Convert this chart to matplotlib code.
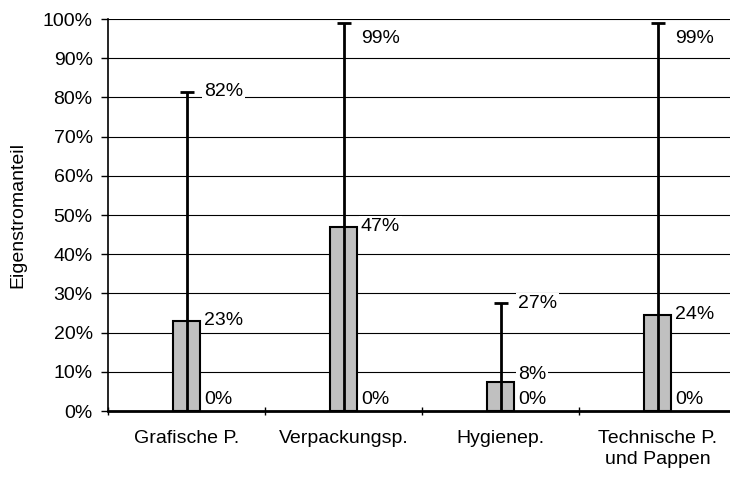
import numpy as np
import matplotlib.pyplot as plt
from matplotlib.ticker import FixedLocator, PercentFormatter

plt.rcParams['font.family'] = ['Liberation Sans', 'DejaVu Sans']

categories = ["Grafische P.", "Verpackungsp.", "Hygienep.", "Technische P.\nund Pappen"]
mean_share = [23, 47, 7.5, 24.5]
max_share = [81.5, 99, 27.5, 99]
min_share = [0, 0, 0, 0]
mean_labels = ["23%", "47%", "8%", "24%"]
max_labels = ["82%", "99%", "27%", "99%"]
min_labels = ["0%", "0%", "0%", "0%"]

fig = plt.figure(figsize=(7.3, 4.8), dpi=100)
# axes run a little past the right edge, as in the original
ax = fig.add_axes([108 / 730, 1 - 411 / 480, 628 / 730, 392 / 480])

x = np.arange(len(categories))
ax.set_xlim(-0.5, len(categories) - 0.5)
ax.set_ylim(0, 100)

for y in range(10, 101, 10):
    ax.axhline(y, color="black", lw=0.8, zorder=0)

ax.bar(x, mean_share, width=0.17, color="#c0c0c0", edgecolor="black", lw=1.5, zorder=2)

lower = np.array(mean_share) - np.array(min_share)
upper = np.array(max_share) - np.array(mean_share)
ax.errorbar(x, mean_share, yerr=[lower, upper], fmt="none", ecolor="black",
            elinewidth=2, capsize=5, capthick=2, zorder=3)

fs = 14
box = dict(facecolor="white", edgecolor="none", pad=1.5)
for i in range(len(categories)):
    xt = x[i] + 0.11
    ym = 95 if max_share[i] > 95 else max_share[i]
    ax.text(xt, ym, max_labels[i], va="center", ha="left", fontsize=fs, bbox=box, zorder=4)
    ax.text(xt, mean_share[i] + 1.7 if i == 2 else mean_share[i], mean_labels[i],
            va="center", ha="left", fontsize=fs, bbox=box, zorder=4)
    ax.text(xt, 0.8, min_labels[i], va="bottom", ha="left", fontsize=fs, zorder=4)

ax.yaxis.set_major_locator(FixedLocator(range(0, 101, 10)))
ax.yaxis.set_major_formatter(PercentFormatter(decimals=0))
ax.set_ylabel("Eigenstromanteil", fontsize=fs, labelpad=12)

ax.set_xticks(x)
ax.set_xticklabels(categories, fontsize=fs, linespacing=1.3)
ax.tick_params(axis="x", length=0, pad=14)
ax.set_xticks(np.arange(-0.5, len(categories), 1), minor=True)
ax.tick_params(axis="x", which="minor", length=6, direction="inout", width=1)
ax.tick_params(axis="y", labelsize=fs, length=5, width=1, pad=6)

for s in ["top", "right"]:
    ax.spines[s].set_visible(False)
ax.spines["left"].set_linewidth(1.2)
ax.spines["bottom"].set_linewidth(2)

fig.savefig("out.png", dpi=100)
